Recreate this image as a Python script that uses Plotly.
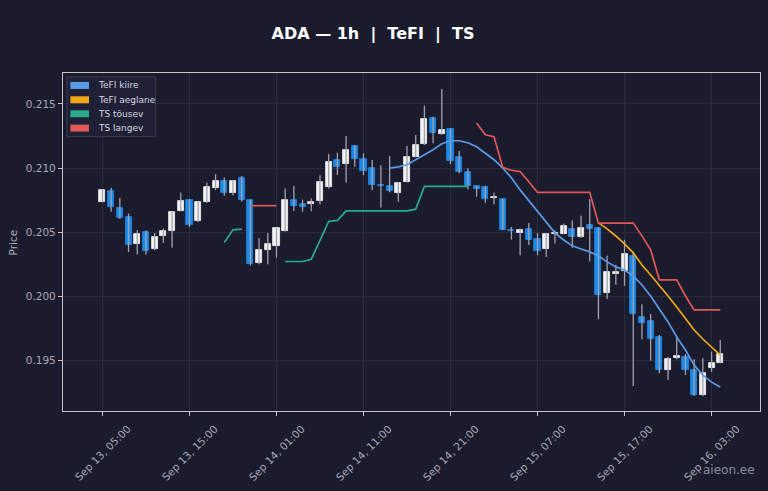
import plotly.graph_objects as go
import pandas as pd

# ---------------- data ----------------
times = pd.date_range("2025-09-13 05:00", periods=72, freq="h")

open_ = [0.20734, 0.20820, 0.20690, 0.20620, 0.20412, 0.20502, 0.20373, 0.20471, 0.20510, 0.20664,
         0.20750, 0.20586, 0.20732, 0.20841, 0.20901, 0.20807, 0.20920, 0.20750, 0.20263, 0.20359,
         0.20393, 0.20510, 0.20755, 0.20724, 0.20721, 0.20742, 0.20849, 0.21063, 0.21029, 0.21172,
         0.21070, 0.20998, 0.20870, 0.20859, 0.20807, 0.20893, 0.21088, 0.21185, 0.21388, 0.21263,
         0.21305, 0.21084, 0.20971, 0.20859, 0.20849, 0.20768, 0.20758, 0.20516, 0.20495, 0.20529,
         0.20451, 0.20373, 0.20488, 0.20490, 0.20529, 0.20462, 0.20558, 0.20532, 0.20025, 0.20176,
         0.20201, 0.20316, 0.19842, 0.19809, 0.19686, 0.19427, 0.19518, 0.19530, 0.19427, 0.19232,
         0.19440, 0.19484]
high = [0.20835, 0.20846, 0.20768, 0.20646, 0.20516, 0.20516, 0.20495, 0.20529, 0.20659, 0.20807,
        0.20760, 0.20735, 0.20885, 0.20953, 0.20927, 0.20905, 0.20938, 0.20755, 0.20455, 0.20495,
        0.20534, 0.20841, 0.20862, 0.20755, 0.20763, 0.20945, 0.21109, 0.21120, 0.21250, 0.21180,
        0.21115, 0.21063, 0.21023, 0.21094, 0.20890, 0.21172, 0.21258, 0.21487, 0.21400, 0.21617,
        0.21310, 0.21133, 0.20998, 0.20862, 0.20860, 0.20807, 0.20762, 0.20541, 0.20530, 0.20573,
        0.20495, 0.20492, 0.20516, 0.20568, 0.20594, 0.20628, 0.20758, 0.20540, 0.20318, 0.20246,
        0.20441, 0.20350, 0.19939, 0.19863, 0.19700, 0.19530, 0.19686, 0.19550, 0.19510, 0.19518,
        0.19570, 0.19661]
low = [0.20734, 0.20659, 0.20605, 0.20346, 0.20326, 0.20326, 0.20359, 0.20416, 0.20380, 0.20664,
       0.20540, 0.20580, 0.20730, 0.20828, 0.20784, 0.20789, 0.20740, 0.20242, 0.20250, 0.20250,
       0.20302, 0.20505, 0.20666, 0.20659, 0.20664, 0.20716, 0.20840, 0.20945, 0.20888, 0.21010,
       0.20945, 0.20828, 0.20693, 0.20812, 0.20737, 0.20890, 0.21085, 0.21180, 0.21193, 0.21260,
       0.21030, 0.20960, 0.20834, 0.20776, 0.20729, 0.20719, 0.20518, 0.20443, 0.20320, 0.20400,
       0.20320, 0.20307, 0.20412, 0.20488, 0.20380, 0.20458, 0.20272, 0.19822, 0.19980, 0.20090,
       0.20084, 0.19302, 0.19666, 0.19499, 0.19401, 0.19349, 0.19510, 0.19388, 0.19224, 0.19222,
       0.19413, 0.19480]
close = [0.20828, 0.20700, 0.20612, 0.20398, 0.20484, 0.20354, 0.20463, 0.20510, 0.20659, 0.20742,
         0.20555, 0.20732, 0.20854, 0.20898, 0.20802, 0.20901, 0.20750, 0.20255, 0.20359, 0.20412,
         0.20534, 0.20755, 0.20703, 0.20698, 0.20732, 0.20893, 0.21045, 0.21010, 0.21141, 0.21070,
         0.20977, 0.20867, 0.20862, 0.20823, 0.20880, 0.21088, 0.21180, 0.21383, 0.21271, 0.21297,
         0.21055, 0.20971, 0.20859, 0.20834, 0.20763, 0.20775, 0.20521, 0.20510, 0.20521, 0.20437,
         0.20354, 0.20490, 0.20493, 0.20547, 0.20463, 0.20532, 0.20524, 0.20012, 0.20189, 0.20193,
         0.20332, 0.19863, 0.19791, 0.19666, 0.19427, 0.19510, 0.19538, 0.19427, 0.19232, 0.19401,
         0.19479, 0.19549]

tefi_kiire = [None] * 33 + [
    0.21000, 0.21010, 0.21026, 0.21065, 0.21104, 0.21143, 0.21190, 0.21213, 0.21213, 0.21197,
    0.21166, 0.21119, 0.21065, 0.21002, 0.20924, 0.20830, 0.20745, 0.20659, 0.20573, 0.20495,
    0.20440, 0.20394, 0.20370, 0.20347, 0.20316, 0.20269, 0.20230, 0.20206, 0.20159, 0.20089,
    0.20003, 0.19902, 0.19801, 0.19684, 0.19582, 0.19465, 0.19387, 0.19332, 0.19294]
tefi_aeglane = [None] * 57 + [
    0.20573, 0.20526, 0.20471, 0.20409, 0.20339, 0.20245, 0.20167, 0.20089, 0.20003, 0.19917,
    0.19824, 0.19738, 0.19668, 0.19605, 0.19543]
ts_tousev = [None] * 14 + [0.20420, 0.20519, 0.20524] + [None] * 4 + [
    0.20272, 0.20272, 0.20272, 0.20290, 0.20440, 0.20584, 0.20592, 0.20667, 0.20667, 0.20667,
    0.20667, 0.20667, 0.20667, 0.20667, 0.20667, 0.20680, 0.20857, 0.20857, 0.20857, 0.20857,
    0.20857, 0.20857] + [None] * 29
ts_langev = [None] * 17 + [0.20707, 0.20707, 0.20707, 0.20707] + [None] * 22 + [
    0.21351, 0.21260, 0.21244, 0.21006, 0.20983, 0.20973, 0.20893, 0.20810, 0.20810, 0.20810,
    0.20810, 0.20810, 0.20810, 0.20810, 0.20571, 0.20571, 0.20571, 0.20571, 0.20571, 0.20472,
    0.20363, 0.20129, 0.20129, 0.20129, 0.20003, 0.19895, 0.19895, 0.19895, 0.19895]

series_names = ["TeFI kiire", "TeFI aeglane", "TS tõusev", "TS langev"]
series_values = [tefi_kiire, tefi_aeglane, ts_tousev, ts_langev]

tick_times = pd.date_range("2025-09-13 05:00", periods=8, freq="10h")
tick_labels = ["Sep 13, 05:00", "Sep 13, 15:00", "Sep 14, 01:00", "Sep 14, 11:00",
               "Sep 14, 21:00", "Sep 15, 07:00", "Sep 15, 17:00", "Sep 16, 03:00"]
y_ticks = [0.195, 0.200, 0.205, 0.210, 0.215]

# ---------------- style ----------------
BG = "#1b1b2e"
GRID = "#2a2a42"
SPINE = "#c4c4cc"
TXT = "#a9a9b8"
UP = "#f2f2f2"
DOWN = "#1c8ae8"
WICK = "#a2a2ae"
series_colors = ["#5a9be6", "#f0a818", "#2bab8c", "#e05858"]
FONT = "DejaVu Sans"

fig = go.Figure()

# wicks
wx, wy = [], []
for t, h, l in zip(times, high, low):
    wx += [t, t, None]
    wy += [l, h, None]
fig.add_trace(go.Scatter(x=wx, y=wy, mode="lines", line=dict(color=WICK, width=1.3),
                         hoverinfo="skip", showlegend=False))

# bodies
body_colors = [UP if c >= o else DOWN for o, c in zip(open_, close)]
fig.add_trace(go.Bar(x=times, base=open_, y=[c - o for o, c in zip(open_, close)],
                     width=0.7 * 3600 * 1000,
                     marker=dict(color=body_colors, line=dict(color=body_colors, width=0.8)),
                     showlegend=False))

# indicator lines
for name, vals, col in zip(series_names, series_values, series_colors):
    fig.add_trace(go.Scatter(x=times, y=vals, mode="lines", name=name,
                             line=dict(color=col, width=1.7), connectgaps=False,
                             showlegend=False))

# ---------------- layout ----------------
x0 = pd.Timestamp("2025-09-13 00:28")
x1 = pd.Timestamp("2025-09-16 08:34")

fig.update_layout(
    width=768, height=491,
    margin=dict(l=63, r=8, t=73, b=80),
    paper_bgcolor=BG, plot_bgcolor=BG,
    font=dict(family=FONT, color=TXT, size=10.5),
    showlegend=False, bargap=0,
    title=dict(text="<b>ADA — 1h\u00a0\u00a0|\u00a0\u00a0TeFI\u00a0\u00a0|\u00a0\u00a0TS</b>",
               x=373 / 768, xref="container", xanchor="center",
               y=1 - 33 / 491, yref="container", yanchor="middle",
               font=dict(family=FONT, size=16, color="#ffffff")),
    xaxis=dict(type="date", range=[x0, x1], tickvals=list(tick_times), showticklabels=False,
               ticks="outside", ticklen=4, tickcolor=SPINE, tickwidth=1,
               showgrid=True, gridcolor=GRID, gridwidth=0.8,
               showline=True, mirror=True, linecolor=SPINE, linewidth=1.2, zeroline=False),
    yaxis=dict(range=[0.19107, 0.21741], tickvals=y_ticks,
               ticktext=[f"{v:.3f}" for v in y_ticks],
               tickfont=dict(family=FONT, size=10.5, color=TXT),
               ticks="outside", ticklen=4, tickcolor=SPINE, tickwidth=1,
               showgrid=True, gridcolor=GRID, gridwidth=0.8,
               showline=True, mirror=True, linecolor=SPINE, linewidth=1.2, zeroline=False),
)

annotations = []
# x tick labels (centered on tick, rotated 45°)
for t, lab in zip(tick_times, tick_labels):
    annotations.append(dict(x=t, y=-0.1244, xref="x", yref="paper", text=lab,
                            textangle=-45, showarrow=False, xanchor="center", yanchor="middle",
                            font=dict(family=FONT, size=10.5, color=TXT)))
# y axis title
annotations.append(dict(x=-0.0711, y=0.5, xref="paper", yref="paper", text="Price",
                        textangle=-90, showarrow=False, xanchor="center", yanchor="middle",
                        font=dict(family=FONT, size=10.5, color=TXT)))
# watermark
annotations.append(dict(x=0.9961, y=-0.1747, xref="paper", yref="paper", text="aieon.ee",
                        showarrow=False, xanchor="right", yanchor="middle",
                        font=dict(family=FONT, size=12, color="#8e8e9e")))

# legend (drawn as patches + labels in the upper-left corner)
shapes = [dict(type="rect", xref="paper", yref="paper", x0=0.0057, x1=0.1327, y0=0.8123, y1=0.9882,
               fillcolor="#1f1f35", line=dict(color="#3c3c55", width=1), layer="above")]
row_y = [0.9632, 0.9207, 0.8793, 0.8369]
for name, col, yy in zip(series_names, series_colors, row_y):
    shapes.append(dict(type="rect", xref="paper", yref="paper", x0=0.0106, x1=0.0373,
                       y0=yy - 0.0104, y1=yy + 0.0104, fillcolor=col, line=dict(width=0),
                       layer="above"))
    annotations.append(dict(x=0.0470, y=yy, xref="paper", yref="paper", text=name,
                            showarrow=False, xanchor="left", yanchor="middle",
                            font=dict(family=FONT, size=9, color="#d8d8e2")))

fig.update_layout(annotations=annotations, shapes=shapes)

fig.write_html(
    "out.html",
    config={"displayModeBar": False},
    post_script="document.body.style.margin='0';document.body.style.background='#1b1b2e';"
)
